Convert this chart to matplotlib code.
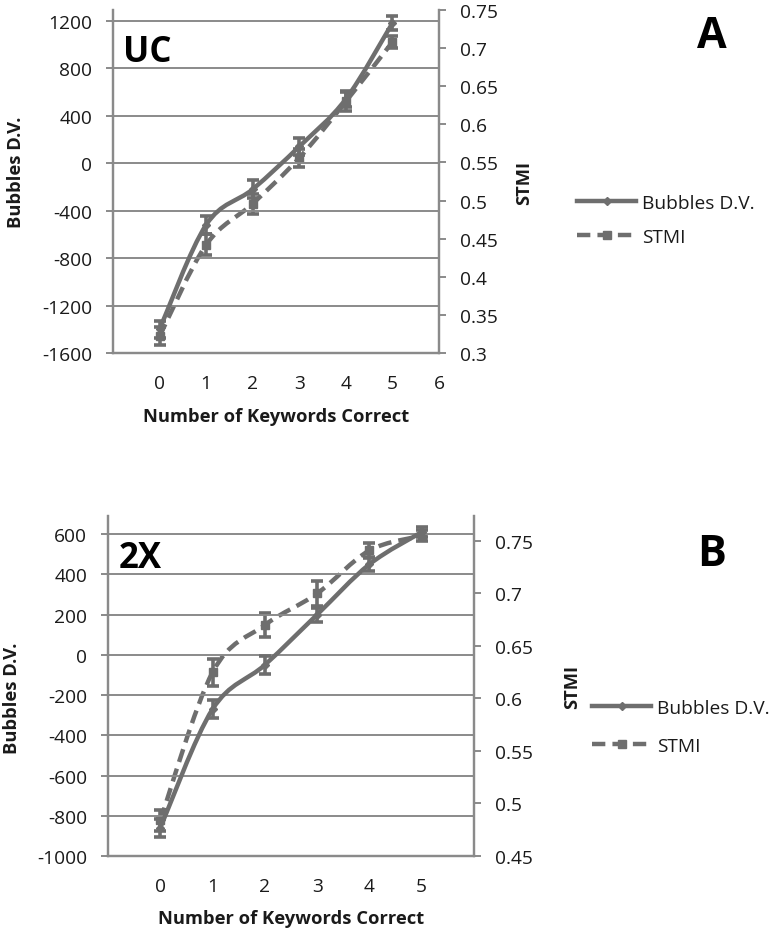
import matplotlib
matplotlib.use("Agg")
import matplotlib.pyplot as plt
from matplotlib.path import Path
from matplotlib.patches import PathPatch
from matplotlib.lines import Line2D
import numpy as np

plt.rcParams['font.family'] = ['Open Sans', 'DejaVu Sans']

# ---------------- data ----------------
keywords = [0, 1, 2, 3, 4, 5]

# Panel A (UC)
uc_bubbles = [-1400, -520, -220, 140, 540, 1180]
uc_bubbles_err = [70, 75, 75, 70, 70, 60]
uc_stmi = [0.322, 0.442, 0.496, 0.556, 0.630, 0.708]
uc_stmi_err = [0.012, 0.014, 0.013, 0.012, 0.012, 0.008]

# Panel B (2X)
x2_bubbles = [-860, -270, -50, 200, 450, 610]
x2_bubbles_err = [45, 45, 45, 35, 35, 25]
x2_stmi = [0.484, 0.625, 0.670, 0.700, 0.741, 0.755]
x2_stmi_err = [0.010, 0.013, 0.011, 0.012, 0.007, 0.005]

uc_left_ticks = [-1600, -1200, -800, -400, 0, 400, 800, 1200]
uc_right_ticks = [0.3, 0.35, 0.4, 0.45, 0.5, 0.55, 0.6, 0.65, 0.7, 0.75]
uc_right_labels = ["0.3", "0.35", "0.4", "0.45", "0.5", "0.55", "0.6", "0.65", "0.7", "0.75"]
uc_xticks = [0, 1, 2, 3, 4, 5, 6]

x2_left_ticks = [-1000, -800, -600, -400, -200, 0, 200, 400, 600]
x2_right_ticks = [0.45, 0.5, 0.55, 0.6, 0.65, 0.7, 0.75]
x2_right_labels = ["0.45", "0.5", "0.55", "0.6", "0.65", "0.7", "0.75"]
x2_xticks = [0, 1, 2, 3, 4, 5]

series_names = ["Bubbles D.V.", "STMI"]
# --------------------------------------

GRAY = '#6e6e6e'
AXC = '#8a8a8a'
TXT = '#1a1a1a'
TICKFS = 13.8
LABFS = 13.2
LEGFS = 13.8

fig = plt.figure(figsize=(7.8, 9.29), dpi=100)


def smooth_path(xs, ys):
    pts = np.column_stack([xs, ys]).astype(float)
    n = len(pts)
    verts = [pts[0]]
    codes = [Path.MOVETO]
    for i in range(n - 1):
        p0 = pts[i - 1] if i > 0 else pts[i]
        p1 = pts[i]
        p2 = pts[i + 1]
        p3 = pts[i + 2] if i + 2 < n else pts[i + 1]
        c1 = p1 + (p2 - p0) / 6.0
        c2 = p2 - (p3 - p1) / 6.0
        verts += [c1, c2, p2]
        codes += [Path.CURVE4] * 3
    return Path(verts, codes)


def panel(rect, bub, bub_err, stmi, stmi_err, lticks, lylim, rticks, rlabels,
          rylim, xticks, tag, letter, letter_xy, leg_anchor, leg_space,
          stmi_lab_x, ylab_xy, xlab_pad):
    ax = fig.add_axes(rect)
    ax2 = ax.twinx()
    ax.set_zorder(ax2.get_zorder() + 1)
    ax.patch.set_visible(False)

    ax.set_xlim(-1, 6)
    ax.set_ylim(*lylim)
    ax2.set_ylim(*rylim)

    ax.set_yticks(lticks)
    ax.set_yticklabels([str(t) for t in lticks])
    ax2.set_yticks(rticks)
    ax2.set_yticklabels(rlabels)
    ax.set_xticks(xticks)
    ax.set_xticklabels([str(t) for t in xticks])

    for t in lticks:
        ax.axhline(t, color=AXC, lw=1.4, zorder=0)

    for a in (ax, ax2):
        a.spines['top'].set_visible(False)
        for s in ('left', 'right', 'bottom'):
            a.spines[s].set_color(AXC)
            a.spines[s].set_linewidth(1.6)
    ax.tick_params(axis='y', length=5, width=1.4, color=AXC, labelsize=TICKFS,
                   labelcolor=TXT, pad=10)
    ax2.tick_params(axis='y', length=5, width=1.4, color=AXC, labelsize=TICKFS,
                    labelcolor=TXT, pad=10)
    ax.tick_params(axis='x', length=0, labelsize=TICKFS, labelcolor=TXT, pad=15)

    # Bubbles (left axis) - solid smoothed
    pb = PathPatch(smooth_path(keywords, bub), fill=False, edgecolor=GRAY,
                   lw=3.2, transform=ax.transData, zorder=3, capstyle='round')
    ax.add_patch(pb)
    ax.errorbar(keywords, bub, yerr=bub_err, fmt='D', ms=4, color=GRAY,
                ecolor=GRAY, elinewidth=2.6, capsize=4, capthick=2.6, zorder=4)

    # STMI (right axis) - dashed smoothed
    ps = PathPatch(smooth_path(keywords, stmi), fill=False, edgecolor=GRAY,
                   lw=3.2, linestyle=(0, (3, 1.6)), transform=ax2.transData,
                   zorder=3)
    ax2.add_patch(ps)
    ax2.errorbar(keywords, stmi, yerr=stmi_err, fmt='s', ms=6, color=GRAY,
                 ecolor=GRAY, elinewidth=2.6, capsize=4, capthick=2.6, zorder=4)

    ax.set_ylabel("Bubbles D.V.", fontsize=LABFS, fontweight='bold', color=TXT)
    ax.yaxis.set_label_coords(*ylab_xy)
    ax2.set_ylabel("STMI", fontsize=LABFS, fontweight='bold', color=TXT)
    ax2.yaxis.set_label_coords(stmi_lab_x, 0.5)
    ax.set_xlabel("Number of Keywords Correct", fontsize=LABFS,
                  fontweight='bold', color=TXT, labelpad=xlab_pad)

    ax.text(0.03, 0.93, tag, transform=ax.transAxes, fontsize=25,
            fontweight='bold', color='black', va='top', ha='left')
    fig.text(letter_xy[0], letter_xy[1], letter, fontsize=31,
             fontweight='bold', color='black', ha='center', va='center')

    handles = [Line2D([], [], color=GRAY, lw=3.2, marker='D', ms=4),
               Line2D([], [], color=GRAY, lw=3.2, ls=(0, (3, 1.6)),
                      marker='s', ms=6)]
    fig.legend(handles, series_names, loc='center left',
               bbox_to_anchor=leg_anchor, frameon=False, fontsize=LEGFS,
               handlelength=3.1, labelspacing=leg_space, handletextpad=0.3,
               labelcolor=TXT, borderaxespad=0, borderpad=0)
    return ax, ax2


# Panel A
panel([113 / 780, 1 - 354 / 929, (439 - 113) / 780, (354 - 11) / 929],
      uc_bubbles, uc_bubbles_err, uc_stmi, uc_stmi_err,
      uc_left_ticks, (-1600, 1290), uc_right_ticks, uc_right_labels,
      (0.3, 0.75), uc_xticks, "UC", "A", (712 / 780, 1 - 37 / 929),
      (577 / 780, 1 - 221 / 929), 0.85, 1.233, (-0.27, 0.53), 11)

# Panel B
panel([108 / 780, 1 - 857 / 929, (474 - 108) / 780, (857 - 517) / 929],
      x2_bubbles, x2_bubbles_err, x2_stmi, x2_stmi_err,
      x2_left_ticks, (-1000, 690), x2_right_ticks, x2_right_labels,
      (0.45, 0.7738), x2_xticks, "2X", "B", (712 / 780, 1 - 555 / 929),
      (592 / 780, 1 - 728 / 929), 1.05, 1.243, (-0.238, 0.468), 10)

fig.savefig("out.png", dpi=100)
